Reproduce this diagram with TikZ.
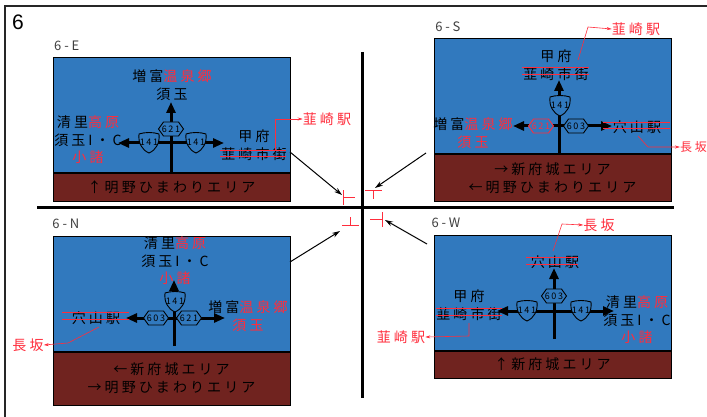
\documentclass[tikz,border=0pt]{standalone}
\usepackage{fontspec}
\setmainfont{Liberation Sans}
\newfontfamily\jpfont[LetterSpace=22]{Noto Sans CJK JP}
\newfontfamily\jpnarrow[LetterSpace=18]{Noto Sans CJK JP}
\usetikzlibrary{arrows.meta, positioning}
\definecolor{signblue}{RGB}{49,121,190}
\definecolor{areabrown}{RGB}{112,35,31}
\definecolor{notered}{RGB}{255,45,60}
\newcommand{\rt}[1]{\textcolor{notered}{#1}}

\begin{document}
\begin{tikzpicture}[
    x=1pt, y=-1pt,
    panel/.style={rectangle, draw=black, line width=1pt, fill=signblue, minimum width=237pt, minimum height=#1, inner sep=0pt},
    area/.style={rectangle, draw=black, line width=1pt, fill=areabrown, minimum width=237pt, minimum height=#1, inner sep=0pt, align=center, font=\jpfont\fontsize{14}{18}\selectfont},
    place/.style={inner sep=0pt, align=center, font=\jpfont\fontsize{14}{17.5}\selectfont},
    tag/.style={inner sep=0pt, font=\jpfont\fontsize{13}{15}\selectfont, text=black!75},
    road/.style={line width=3pt, -{Triangle[length=11pt,width=9pt]}},
    lead/.style={notered, line width=.6pt, -{Stealth[length=5pt,width=3pt]}},
    strike/.style={notered, line width=.7pt},
    view/.style={black, line width=1pt, -{Stealth[length=8pt,width=5pt]}},
    axis/.style={black, line width=3pt},
    sightmark/.style={notered, line width=.6pt},
    pics/hexsign/.style 2 args={code={
        \draw[#1, line width=.9pt, fill=signblue] (-12.5,0) -- (-7.5,-7) -- (7.5,-7) -- (12.5,0) -- (7.5,7) -- (-7.5,7) -- cycle;
        \node[font=\jpnarrow\fontsize{9}{9}\selectfont, inner sep=0pt, text=#1] at (0,0) {#2};
    }},
    shieldsign/.pic={
        \draw[black, line width=.9pt, fill=signblue] (-10,-9) .. controls (-4,-11) and (4,-11) .. (10,-9)
            .. controls (11,0) and (7,7) .. (0,10) .. controls (-7,7) and (-11,0) .. (-10,-9) -- cycle;
        \node[font=\jpnarrow\fontsize{9}{9}\selectfont, inner sep=0pt] at (0,-1) {141};
    }
]
\useasboundingbox (0,0) rectangle (707,417);
\fill[white] (0,0) rectangle (707,417);

% Frame
\coordinate (framea) at (5,417);
\coordinate (frameb) at (5,6);
\coordinate (framec) at (707,6);
\draw[black!85, line width=2.4pt] (framea) -- (frameb) -- (framec);
\node[font=\fontsize{21}{21}\selectfont, inner sep=0pt] (fig) at (18,22) {6};

% Cross roads
\coordinate (west) at (37,207);
\coordinate (east) at (674,207);
\coordinate (north) at (362,52);
\coordinate (south) at (362,398);
\draw[axis] (west) -- (east);
\draw[axis] (north) -- (south);

% Panel E
\node[panel=115pt] (pe) at (171.5,115.5) {};
\node[area=27pt, below=0pt of pe] (ae) {↑明野ひまわりエリア};
\node[tag, above left=7pt and -27pt of pe.north west] (te) {6-E};
\node[place] (e1) at (172,85) {増富\rt{温泉郷}\\須玉};
\node[place] (e2) at (88,140) {清里\rt{高原}\\須玉I・C\\\rt{小諸}};
\node[place] (e3) at (254,145) {甲府\\韮崎市街};
\coordinate (e0) at (171,143);
\coordinate (e0s) at (171,172);
\coordinate (e0n) at (171,102);
\coordinate (e0w) at (118,143);
\coordinate (e0e) at (224,143);
\draw[road] (e0s) -- (e0n);
\draw[road] (e0) -- (e0w);
\draw[road] (e0) -- (e0e);
\pic at (171,129) {hexsign={black}{621}};
\pic at (149,143) {shieldsign};
\pic at (196,143) {shieldsign};
\draw[strike] (220,150) -- (286,150);
\draw[strike] (220,156) -- (286,156);
\node[place, text=notered] (e5) at (327,119) {韮崎駅};
\coordinate (e6) at (275,150);
\draw[lead] (e6) |- (e5.west);

% Panel S
\node[panel=115pt] (ps) at (552.5,96.5) {};
\node[area=46pt, below=0pt of ps] (as) {→新府城エリア\\←明野ひまわりエリア};
\node[tag, above left=7pt and -27pt of ps.north west] (ts) {6-S};
\node[place] (s1) at (556,65) {甲府\\韮崎市街};
\node[place] (s2) at (473,133) {増富\rt{温泉郷}\\\rt{須玉}};
\node[place] (s3) at (637,127) {穴山駅};
\coordinate (s0) at (559,126);
\coordinate (s0s) at (559,153);
\coordinate (s0n) at (559,80);
\coordinate (s0w) at (513,126);
\coordinate (s0e) at (612,126);
\draw[road] (s0s) -- (s0n);
\draw[road] (s0) -- (s0w);
\draw[road] (s0) -- (s0e);
\pic at (560,106) {shieldsign};
\pic at (541,126) {hexsign={notered}{621}};
\pic at (576,126) {hexsign={black}{603}};
\draw[strike] (522,67) -- (589,67);
\draw[strike] (522,74) -- (589,74);
\draw[strike] (603,122) -- (670,122);
\draw[strike] (603,128) -- (670,128);
\node[place, text=notered] (s5) at (636,29) {韮崎駅};
\node[place, text=notered, font=\jpfont\fontsize{12}{15}\selectfont, anchor=east] (s8) at (707,147) {長坂};
\coordinate (s6) at (578,60);
\coordinate (s6b) at (588,27);
\coordinate (s9) at (638,136);
\coordinate (s9b) at (648,147);
\draw[lead] (s6) -- (s6b) -- (s5.west);
\draw[lead] (s9) -- (s9b) -- (s8.west);

% Panel N
\node[panel=115pt] (pn) at (171.5,293.5) {};
\node[area=53pt, below=0pt of pn] (an) {←新府城エリア\\→明野ひまわりエリア};
\node[tag, above left=7pt and -27pt of pn.north west] (tn) {6-N};
\node[place] (n1) at (175,261) {清里\rt{高原}\\須玉I・C\\\rt{小諸}};
\node[place] (n2) at (248,316) {増富\rt{温泉郷}\\\rt{須玉}};
\node[place] (n3) at (96,318) {穴山駅};
\coordinate (n0) at (174,318);
\coordinate (n0s) at (174,346);
\coordinate (n0n) at (174,280);
\coordinate (n0w) at (126,318);
\coordinate (n0e) at (225,318);
\draw[road] (n0s) -- (n0n);
\draw[road] (n0) -- (n0w);
\draw[road] (n0) -- (n0e);
\pic at (175,302) {shieldsign};
\pic at (156,318) {hexsign={black}{603}};
\pic at (189,318) {hexsign={black}{621}};
\draw[strike] (62,312) -- (129,312);
\draw[strike] (62,319) -- (129,319);
\node[place, text=notered] (n5) at (28,345) {長坂};
\coordinate (n6) at (99,327);
\coordinate (n6b) at (68,343);
\draw[lead] (n6) -- (n6b) -- (n5.east);

% Panel W
\node[panel=115pt] (pw) at (552.5,292.5) {};
\node[area=27pt, below=0pt of pw] (aw) {↑新府城エリア};
\node[tag, above left=7pt and -27pt of pw.north west] (tw) {6-W};
\node[place] (w1) at (555,262) {穴山駅};
\node[place] (w2) at (469,305) {甲府\\韮崎市街};
\node[place] (w3) at (637,320) {清里\rt{高原}\\須玉I・C\\\rt{小諸}};
\coordinate (w0) at (554,311);
\coordinate (w0s) at (554,339);
\coordinate (w0n) at (554,268);
\coordinate (w0w) at (497,311);
\coordinate (w0e) at (614,311);
\draw[road] (w0s) -- (w0n);
\draw[road] (w0) -- (w0w);
\draw[road] (w0) -- (w0e);
\pic at (554,296) {hexsign={black}{603}};
\pic at (527,311) {shieldsign};
\pic at (581,311) {shieldsign};
\draw[strike] (526,257) -- (578,257);
\draw[strike] (526,264) -- (578,264);
\draw[strike] (436,308) -- (502,308);
\draw[strike] (436,315) -- (502,315);
\node[place, text=notered] (w5) at (599,225) {長坂};
\node[place, text=notered] (w8) at (401,337) {韮崎駅};
\coordinate (w6) at (553,251);
\coordinate (w6b) at (562,224);
\coordinate (w9) at (469,323);
\coordinate (w9b) at (469,336);
\draw[lead] (w6) -- (w6b) -- (w5.west);
\draw[lead] (w9) -- (w9b) -- (w8.east);

% Sight lines
\coordinate (me) at (342,195);
\coordinate (ms) at (375,188);
\coordinate (mn) at (340,231);
\coordinate (mw) at (385,220);
\coordinate (fe) at (290,152);
\coordinate (fs) at (426,153);
\coordinate (fn) at (290,262);
\coordinate (fw) at (427,244);
\draw[view] (fe) -- (me);
\draw[view] (fs) -- (ms);
\draw[view] (fn) -- (mn);
\draw[view] (fw) -- (mw);

% Sight marks
\draw[sightmark] (343,190) -- (343,205);
\draw[sightmark] (343,197) -- (355,197);
\draw[sightmark] (365,190) -- (382,190);
\draw[sightmark] (373,190) -- (373,199);
\draw[sightmark] (342,225) -- (359,225);
\draw[sightmark] (350,217) -- (350,225);
\draw[sightmark] (382,212) -- (382,227);
\draw[sightmark] (370,219) -- (382,219);
\end{tikzpicture}
\end{document}
